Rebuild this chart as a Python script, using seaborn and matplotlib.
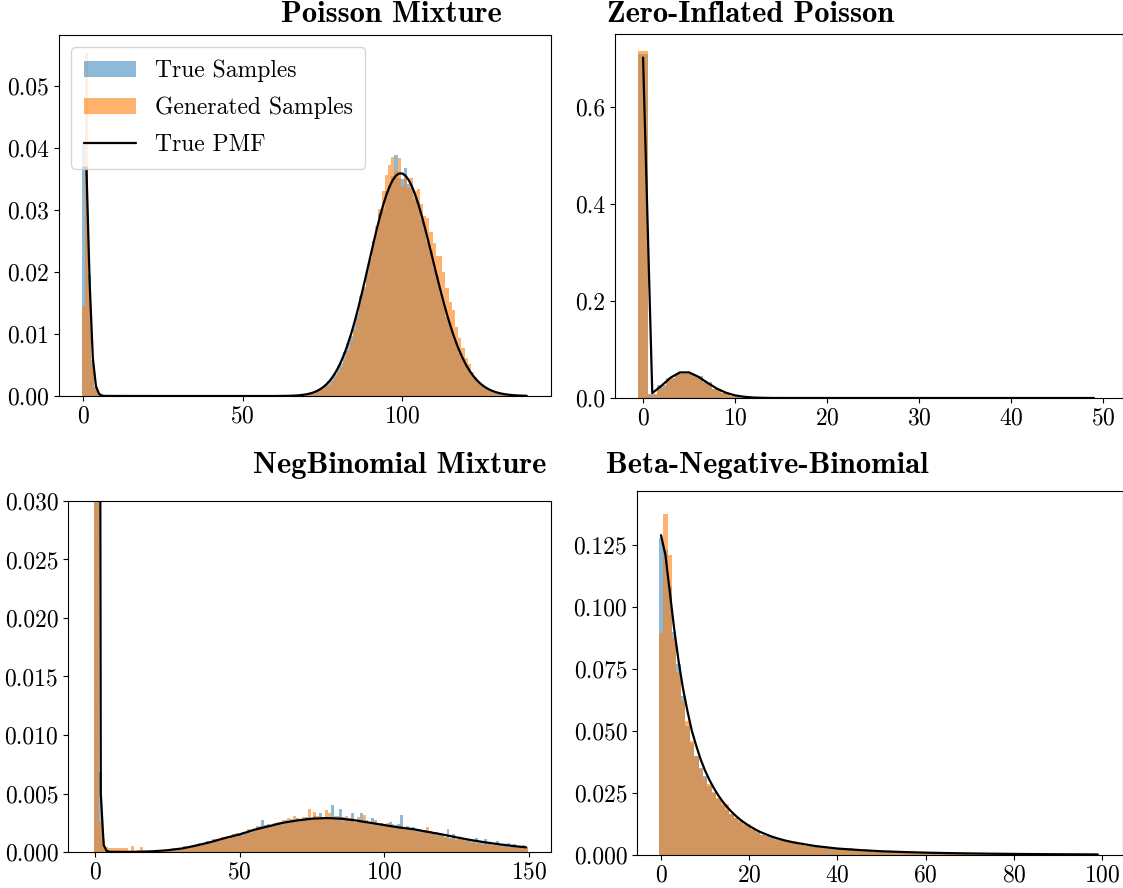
import numpy as np
import matplotlib
matplotlib.use("Agg")
import matplotlib.pyplot as plt
from matplotlib.ticker import FormatStrFormatter
import seaborn as sns

# ---------------------------------------------------------------------------
# Data (histogram heights are densities x 1e4, one bin per integer value)
# ---------------------------------------------------------------------------

# Poisson mixture
pm_low_x = [0, 1, 2, 3, 4, 5]
pm_low_true = [408, 370, 195, 58, 14, 3]
pm_low_gen = [145, 553, 175, 51, 12, 2]
pm_bump_start = 68
pm_bump_true = [1, 2, 3, 3, 7, 8, 12, 11, 19, 24,
                31, 36, 49, 54, 71, 85, 97, 120, 134, 162,
                176, 205, 221, 250, 262, 295, 302, 330, 338, 355,
                389, 352, 350, 368, 341, 335, 318, 312, 285, 275,
                248, 236, 205, 193, 166, 152, 128, 117, 96, 86,
                70, 62, 49, 43, 32, 29, 21, 18, 13, 11,
                8, 7, 5, 4, 3, 2, 2, 1, 1, 0]
pm_bump_gen = [0, 1, 2, 3, 4, 6, 9, 12, 15, 18,
               24, 30, 38, 46, 58, 72, 88, 106, 125, 150,
               172, 196, 224, 250, 274, 301, 330, 356, 372, 386,
               362, 384, 338, 355, 335, 352, 330, 333, 310, 290,
               287, 265, 246, 225, 226, 200, 174, 152, 138, 112,
               94, 78, 62, 51, 38, 30, 23, 17, 13, 9,
               7, 5, 3, 2, 2, 1, 1, 0, 0, 0]
pm_pmf_x = [0, 1, 2, 3, 4, 5, 6, 7, 20, 40, 60,
            64, 65, 66, 67, 68, 69, 70, 71, 72, 73, 74, 75, 76, 77, 78, 79,
            80, 81, 82, 83, 84, 85, 86, 87, 88, 89, 90, 91, 92, 93, 94, 95,
            96, 97, 98, 99, 100, 101, 102, 103, 104, 105, 106, 107, 108, 109,
            110, 111, 112, 113, 114, 115, 116, 117, 118, 119, 120, 121, 122,
            123, 124, 125, 126, 127, 128, 129, 130, 131, 132, 133, 134, 135,
            136, 137, 138, 139]
pm_pmf_y = [0.03679, 0.03679, 0.01839, 0.00613, 0.00153, 0.00031, 0.00005,
            0.00001, 0.0, 0.0, 0.0,
            0.0000264, 0.0000406, 0.0000616, 0.0000918, 0.000135, 0.000196,
            0.000280, 0.000393, 0.000547, 0.000749, 0.001013, 0.001350,
            0.001776, 0.002306, 0.002957, 0.003742, 0.004678, 0.005775,
            0.007043, 0.008485, 0.010102, 0.011885, 0.013820, 0.015884,
            0.018050, 0.020282, 0.022535, 0.024764, 0.026917, 0.028943,
            0.030791, 0.032412, 0.033762, 0.034806, 0.035516, 0.035875,
            0.035875, 0.035519, 0.034823, 0.033809, 0.032508, 0.030960,
            0.029208, 0.027297, 0.025275, 0.023188, 0.021080, 0.018991,
            0.016956, 0.015006, 0.013163, 0.011446, 0.009868, 0.008434,
            0.007147, 0.006006, 0.005005, 0.004136, 0.003390, 0.002757,
            0.002223, 0.001778, 0.001411, 0.001112, 0.000869, 0.000673,
            0.000518, 0.000395, 0.000300, 0.000225, 0.000168, 0.000124,
            0.0000918, 0.0000669, 0.0000484, 0.0000348]

# Zero-inflated Poisson
zip_x = list(range(15))
zip_true = [7090, 76, 268, 406, 500, 505, 452, 330, 185, 100, 50, 25, 10, 4, 1]
zip_gen = [7160, 62, 235, 400, 495, 500, 440, 315, 190, 96, 48, 20, 9, 3, 1]
zip_pmf_x = [0, 1, 2, 3, 4, 5, 6, 7, 8, 9, 10, 11, 12, 13, 14, 15, 20, 30, 40, 49]
zip_pmf_y = [0.7020, 0.0101, 0.0253, 0.0421, 0.0527, 0.0527, 0.0439, 0.0313,
             0.0196, 0.0109, 0.0054, 0.0025, 0.0010, 0.0004, 0.0001, 0.00005,
             0.0, 0.0, 0.0, 0.0]

# Negative-binomial mixture
nb_low_x = list(range(20))
nb_low_true = [4500, 1600, 68, 6, 1, 0, 0, 0, 0, 0,
               0, 0, 0, 0, 0, 0, 0, 0, 0, 1]
nb_low_gen = [4400, 1700, 26, 11, 4, 3, 3, 3, 3, 3,
              3, 3, 1, 5, 1, 2, 4, 1, 1, 1]
nb_bump_start = 20
nb_bump_true = [1, 0, 1, 2, 1, 1, 2, 3, 2, 3,
                3, 4, 3, 5, 6, 7, 8, 6, 8, 9,
                9, 11, 10, 9, 12, 13, 11, 14, 15, 13,
                16, 17, 15, 19, 18, 20, 22, 21, 27, 23,
                24, 22, 25, 23, 26, 24, 27, 25, 28, 26,
                29, 27, 28, 30, 27, 29, 31, 28, 33, 29,
                30, 28, 40, 29, 31, 37, 30, 27, 29, 33,
                26, 28, 33, 25, 27, 24, 29, 26, 23, 25,
                24, 22, 26, 21, 23, 24, 32, 20, 22, 19,
                21, 18, 20, 17, 19, 16, 18, 15, 17, 16,
                14, 13, 20, 12, 15, 11, 13, 12, 10, 11,
                9, 10, 12, 8, 9, 11, 7, 8, 6, 9,
                7, 5, 6, 8, 4, 7, 5, 4, 6, 3]
nb_bump_gen = [1, 1, 0, 1, 2, 1, 2, 1, 3, 2,
               3, 5, 3, 4, 5, 6, 5, 7, 6, 8,
               8, 9, 11, 10, 13, 11, 14, 12, 13, 16,
               15, 14, 17, 20, 16, 18, 19, 22, 20, 21,
               23, 22, 24, 26, 23, 27, 24, 29, 25, 31,
               26, 28, 30, 27, 37, 29, 34, 31, 28, 30,
               36, 33, 27, 31, 28, 30, 26, 31, 27, 29,
               25, 30, 27, 32, 24, 26, 23, 27, 22, 25,
               23, 25, 21, 24, 20, 22, 23, 19, 21, 20,
               18, 20, 16, 19, 17, 21, 15, 17, 14, 16,
               15, 12, 14, 11, 13, 10, 12, 11, 9, 10,
               8, 10, 7, 9, 6, 8, 7, 5, 6, 5,
               6, 4, 5, 3, 5, 4, 3, 4, 3, 4]
nb_pmf_x = [0, 1, 2, 3, 4, 5, 10, 15, 20, 25, 30, 35, 40, 45, 50, 55, 60,
            65, 70, 75, 80, 85, 90, 95, 100, 105, 110, 115, 120, 125, 130,
            135, 140, 145, 149]
nb_pmf_y = [0.45, 0.16, 0.005, 0.0006, 0.0001, 0.00002, 0.00001, 0.00002,
            0.00006, 0.00015, 0.0003, 0.00055, 0.00085, 0.0012, 0.0015,
            0.0019, 0.0022, 0.0025, 0.0027, 0.00285, 0.0029, 0.00285,
            0.0027, 0.0025, 0.0023, 0.0021, 0.00195, 0.00172, 0.0015,
            0.00125, 0.00102, 0.00082, 0.00065, 0.0005, 0.0004]

# Beta-negative-binomial
bnb_x = list(range(100))
bnb_true = [1280, 1230, 1080, 900, 770, 640, 520, 450, 400, 350,
            320, 280, 250, 225, 200, 180, 165, 150, 135, 120,
            112, 100, 92, 80, 78, 72, 66, 62, 57, 52,
            50, 46, 42, 38, 36, 34, 31, 29, 27, 25,
            24, 23, 21, 30, 19, 18, 17, 16, 15, 14,
            14, 13, 12, 11, 12, 10, 10, 9, 9, 9,
            8, 8, 8, 7, 10, 7, 7, 6, 6, 6,
            6, 5, 5, 5, 5, 5, 5, 4, 4, 4,
            4, 4, 4, 4, 3, 3, 3, 3, 3, 3,
            3, 3, 3, 3, 3, 2, 2, 2, 2, 2]
bnb_gen = [897, 1375, 1210, 880, 740, 620, 540, 460, 400, 345,
           310, 285, 255, 230, 215, 205, 165, 150, 140, 125,
           125, 105, 90, 82, 75, 68, 62, 60, 62, 55,
           58, 45, 40, 37, 34, 32, 30, 28, 26, 24,
           23, 22, 20, 19, 18, 17, 16, 15, 14, 13,
           13, 12, 11, 11, 10, 10, 9, 9, 8, 8,
           8, 7, 7, 7, 6, 6, 6, 6, 5, 5,
           5, 5, 5, 4, 4, 4, 4, 4, 4, 4,
           3, 3, 3, 3, 3, 3, 3, 3, 3, 3,
           3, 3, 6, 3, 2, 2, 2, 2, 2, 2]
bnb_pmf_x = list(range(31)) + [35, 40, 45, 50, 55, 60, 65, 70, 75, 80, 85,
                               90, 95, 99]
bnb_pmf_y = [0.129, 0.121, 0.106, 0.091, 0.078, 0.067, 0.058, 0.050, 0.044,
             0.0385, 0.0340, 0.0302, 0.0269, 0.0240, 0.0215, 0.0193, 0.0174,
             0.0157, 0.0142, 0.0129, 0.0117, 0.0107, 0.0097, 0.0089, 0.0082,
             0.0075, 0.0069, 0.0064, 0.0059, 0.0055, 0.0051,
             0.0036, 0.0026, 0.0020, 0.0015, 0.0012, 0.00095, 0.00077,
             0.00063, 0.00052, 0.00043, 0.00036, 0.0003, 0.00026, 0.00023]

titles = ["Poisson Mixture", "Zero-Inflated Poisson",
          "NegBinomial Mixture", "Beta-Negative-Binomial"]
legend_labels = ["True Samples", "Generated Samples", "True PMF"]

# ---------------------------------------------------------------------------
# Style
# ---------------------------------------------------------------------------
sns.set_style("ticks")
plt.rcParams.update({
    "font.family": "cmr10",
    "axes.formatter.use_mathtext": True,
    "font.size": 17,
    "legend.fontsize": 17,
    "xtick.labelsize": 17,
    "ytick.labelsize": 17,
    "text.color": "black",
    "axes.labelcolor": "black",
    "axes.edgecolor": "black",
    "axes.linewidth": 0.8,
    "xtick.color": "black",
    "ytick.color": "black",
    "xtick.major.size": 3.5,
    "ytick.major.size": 3.5,
    "xtick.major.width": 0.8,
    "ytick.major.width": 0.8,
})

W, H = 1123, 888
fig = plt.figure(figsize=(W / 100, H / 100), dpi=100)


def px_axes(left, top, right, bottom):
    return fig.add_axes([left / W, 1 - bottom / H, (right - left) / W,
                         (bottom - top) / H])


ax_pm = px_axes(59, 35, 551, 396)
ax_zip = px_axes(615, 34, 1122.5, 398)
ax_nb = px_axes(68, 501, 551, 852)
ax_bnb = px_axes(637, 491, 1122.5, 855)

BLUE = "#1f77b4"
ORANGE = "#ff7f0e"


def draw_panel(ax, x, true_vals, gen_vals, pmf_x, pmf_y, with_labels=False):
    x = np.asarray(x)
    sns.histplot(x=x, weights=np.asarray(true_vals) / 1e4, discrete=True,
                 stat="count", color=BLUE, alpha=0.5, linewidth=0,
                 edgecolor="none", ax=ax,
                 label=legend_labels[0] if with_labels else None)
    sns.histplot(x=x, weights=np.asarray(gen_vals) / 1e4, discrete=True,
                 stat="count", color=ORANGE, alpha=0.6, linewidth=0,
                 edgecolor="none", ax=ax,
                 label=legend_labels[1] if with_labels else None)
    sns.lineplot(x=pmf_x, y=pmf_y, color="black", linewidth=1.6, ax=ax,
                 label=legend_labels[2] if with_labels else None,
                 legend=False)
    ax.set_xlabel("")
    ax.set_ylabel("")


pm_x = pm_low_x + list(range(pm_bump_start, pm_bump_start + len(pm_bump_true)))
draw_panel(ax_pm, pm_x, pm_low_true + pm_bump_true, pm_low_gen + pm_bump_gen,
           pm_pmf_x, pm_pmf_y, with_labels=True)
ax_pm.set_xlim(-7.6, 146.6)
ax_pm.set_ylim(0, 0.0582)
ax_pm.set_xticks([0, 50, 100])
ax_pm.set_yticks([0.0, 0.01, 0.02, 0.03, 0.04, 0.05])
handles, labels = ax_pm.get_legend_handles_labels()
by_label = dict(zip(labels, handles))
ax_pm.legend([by_label[l] for l in legend_labels], legend_labels,
             loc="upper left", handlelength=2.2, labelspacing=0.62,
             borderpad=0.55)

draw_panel(ax_zip, zip_x, zip_true, zip_gen, zip_pmf_x, zip_pmf_y)
ax_zip.set_xlim(-3.05, 52.1)
ax_zip.set_ylim(0, 0.7505)
ax_zip.set_xticks([0, 10, 20, 30, 40, 50])
ax_zip.set_yticks([0.0, 0.2, 0.4, 0.6])

nb_x = nb_low_x + list(range(nb_bump_start, nb_bump_start + len(nb_bump_true)))
draw_panel(ax_nb, nb_x, nb_low_true + nb_bump_true, nb_low_gen + nb_bump_gen,
           nb_pmf_x, nb_pmf_y)
ax_nb.set_xlim(-9.33, 157.6)
ax_nb.set_ylim(0, 0.030)
ax_nb.set_xticks([0, 50, 100, 150])
ax_nb.set_yticks([0.0, 0.005, 0.010, 0.015, 0.020, 0.025, 0.030])

draw_panel(ax_bnb, bnb_x, bnb_true, bnb_gen, bnb_pmf_x, bnb_pmf_y)
ax_bnb.set_xlim(-5.44, 104.6)
ax_bnb.set_ylim(0, 0.1468)
ax_bnb.set_xticks([0, 20, 40, 60, 80, 100])
ax_bnb.set_yticks([0.0, 0.025, 0.05, 0.075, 0.1, 0.125])

ax_pm.yaxis.set_major_formatter(FormatStrFormatter("%.2f"))
ax_zip.yaxis.set_major_formatter(FormatStrFormatter("%.1f"))
ax_nb.yaxis.set_major_formatter(FormatStrFormatter("%.3f"))
ax_bnb.yaxis.set_major_formatter(FormatStrFormatter("%.3f"))

# Panel titles (bold), placed by their centre and baseline
title_pos = [(391, 22), (751, 22), (400, 473), (767, 473)]
for text, (cx, by) in zip(titles, title_pos):
    fig.text(cx / W, 1 - by / H, text, fontfamily="cmb10", fontsize=22,
             color="black", ha="center", va="baseline")

fig.savefig("out.png", dpi=100)
